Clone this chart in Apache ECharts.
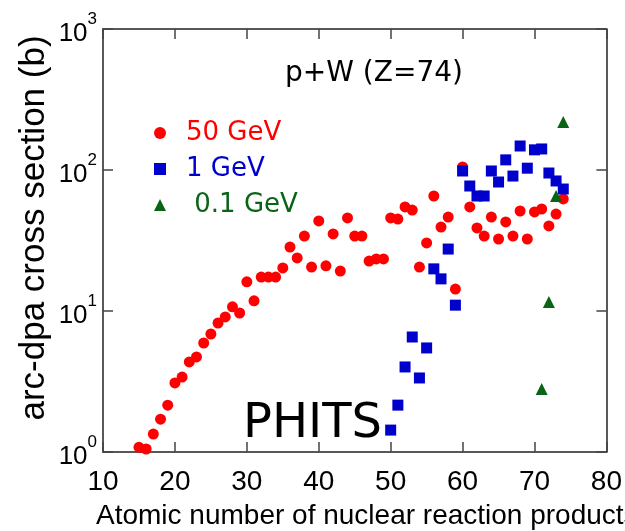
<!DOCTYPE html>
<html>
<head>
<meta charset="utf-8">
<script src="https://cdn.jsdelivr.net/npm/echarts@6/dist/echarts.min.js"></script>
<style>
html, body { margin: 0; padding: 0; background: #fff; }
#main { width: 625px; height: 531px; }
</style>
</head>
<body>
<div id="main"></div>
<script>
// 数据
var z50 = [15, 16, 17, 18, 19, 20, 21, 22, 23, 24, 25, 26, 27, 28, 29, 30, 31, 32, 33, 34,
    35, 36, 37, 38, 39, 40, 41, 42, 43, 44, 45, 46, 47, 48, 49, 50, 51, 52, 53, 54,
    55, 56, 57, 58, 59, 60, 61, 62, 63, 64, 65, 66, 67, 68, 69, 70, 71, 72, 73, 74];
var v50 = [1.08, 1.05, 1.34, 1.71, 2.15, 3.09, 3.4, 4.35, 4.72, 5.93, 6.87, 8.22, 9.07, 10.7, 9.68, 16.1, 11.8, 17.4, 17.4, 17.4,
    20.2, 28.4, 23.8, 34.0, 20.5, 43.5, 20.9, 35.2, 19.2, 45.7, 34.0, 34.0, 22.6, 23.4, 23.4, 45.7, 44.9, 54.7, 52.0, 20.5,
    30.4, 65.4, 39.4, 46.4, 14.3, 105, 54.7, 38.8, 34.0, 46.4, 32.4, 42.8, 34.0, 51.2, 32.4, 50.4, 52.9, 40.1, 48.7, 62.3];
var z1 = [50, 51, 52, 53, 54, 55, 56, 57, 58, 59, 60, 61, 62, 63, 64, 65, 66, 67, 68, 69, 70, 71, 72, 73, 74];
var v1 = [1.43, 2.15, 4.01, 6.54, 3.35, 5.47, 19.9, 16.9, 27.5, 11.0, 98.4, 77.0, 65.4, 65.4, 98.4, 82.2, 118, 90.6, 148, 103,
    139, 141, 95.2, 83.6, 73.3];
var z01 = [71, 72, 73, 74];
var v01 = [2.8, 11.6, 65.4, 219];
var xTicks = [10, 20, 30, 40, 50, 60, 70, 80];

function pairs(xs, ys) {
    var out = [];
    for (var i = 0; i < xs.length; i++) out.push([xs[i], ys[i]]);
    return out;
}

var chart = echarts.init(document.getElementById('main'));
var tickStyle = { show: true, inside: true, length: 10, lineStyle: { color: '#444', width: 1.5 } };
var lineStyle = { show: true, lineStyle: { color: '#222', width: 1.5 } };

var option = {
    backgroundColor: '#fff',
    animation: false,
    grid: { left: 103, right: 11, top: 29, bottom: 79 },
    legend: {
        orient: 'vertical',
        left: 149,
        top: 115,
        itemWidth: 12,
        itemHeight: 12,
        itemGap: 10,
        textStyle: { fontFamily: 'DejaVu Sans', fontSize: 26, lineHeight: 26, padding: [0, 0, 0, 15] },
        data: [
            { name: '50 GeV', icon: 'circle', textStyle: { color: '#ff0000' } },
            { name: '1 GeV', icon: 'rect', textStyle: { color: '#0000cc' } },
            { name: ' 0.1 GeV', icon: 'triangle', textStyle: { color: '#0a6415' } }
        ]
    },
    xAxis: [{
        type: 'value',
        min: xTicks[0],
        max: xTicks[xTicks.length - 1],
        interval: 10,
        axisLine: lineStyle,
        axisTick: tickStyle,
        splitLine: { show: false },
        axisLabel: {
            margin: 16,
            fontFamily: 'Liberation Sans',
            fontSize: 28,
            color: '#000',
            showMinLabel: true,
            showMaxLabel: true
        }
    }, {
        type: 'value',
        position: 'top',
        min: 10,
        max: 80,
        interval: 10,
        axisLine: lineStyle,
        axisTick: tickStyle,
        axisLabel: { show: false },
        splitLine: { show: false }
    }],
    yAxis: [{
        type: 'log',
        logBase: 10,
        min: 1,
        max: 1000,
        axisLine: lineStyle,
        axisTick: tickStyle,
        minorTick: { show: false },
        splitLine: { show: false },
        axisLabel: {
            margin: 6,
            formatter: function (v) {
                return '{b|10}{s|' + Math.round(Math.log10(v)) + '}';
            },
            rich: {
                b: { fontFamily: 'Liberation Sans', fontSize: 26, lineHeight: 36, verticalAlign: 'bottom', color: '#000' },
                s: { fontFamily: 'Liberation Sans', fontSize: 17, lineHeight: 12, verticalAlign: 'top', color: '#000' }
            }
        }
    }, {
        type: 'log',
        logBase: 10,
        position: 'right',
        min: 1,
        max: 1000,
        axisLine: lineStyle,
        axisTick: tickStyle,
        axisLabel: { show: false },
        splitLine: { show: false }
    }],
    graphic: [
        {
            type: 'text', left: 285, top: 60,
            style: { text: 'p+W (Z=74)', fontFamily: 'DejaVu Sans', fontSize: 28, fill: '#000' }
        },
        {
            type: 'text', left: 243, top: 401,
            style: { text: 'PHITS', fontFamily: 'DejaVu Sans', fontSize: 48, fill: '#000' }
        },
        {
            type: 'text', x: 34, y: 228, rotation: Math.PI / 2,
            style: {
                text: 'arc-dpa cross section (b)', fontFamily: 'Liberation Sans', fontSize: 35,
                fill: '#000', align: 'center', verticalAlign: 'middle'
            }
        },
        {
            type: 'text', x: 96, y: 516,
            style: {
                text: 'Atomic number of nuclear reaction products', fontFamily: 'Liberation Sans', fontSize: 28,
                fill: '#000', align: 'left', verticalAlign: 'middle'
            }
        }
    ],
    series: [{
        name: '50 GeV',
        type: 'scatter',
        symbol: 'circle',
        symbolSize: 11,
        itemStyle: { color: '#ff0000', opacity: 1 },
        data: pairs(z50, v50)
    }, {
        name: '1 GeV',
        type: 'scatter',
        symbol: 'rect',
        symbolSize: 11,
        itemStyle: { color: '#0000cc', opacity: 1 },
        data: pairs(z1, v1)
    }, {
        name: ' 0.1 GeV',
        type: 'scatter',
        symbol: 'triangle',
        symbolSize: 12,
        itemStyle: { color: '#0a6415', opacity: 1 },
        data: pairs(z01, v01)
    }]
};
chart.setOption(option);
</script>
</body>
</html>
